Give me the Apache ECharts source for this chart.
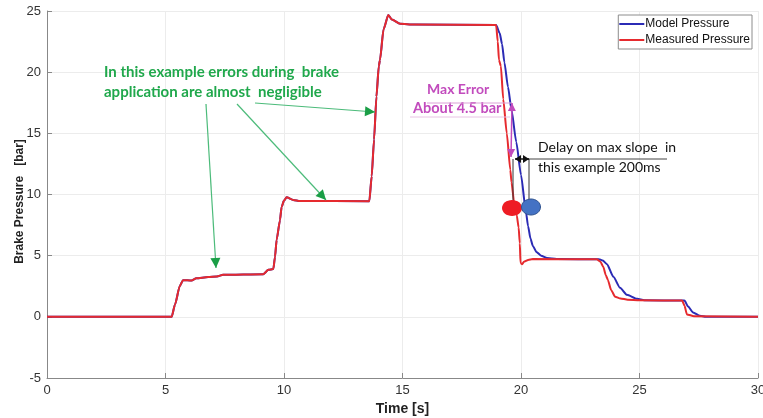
<!DOCTYPE html>
<html>
<head>
<meta charset="utf-8">
<script src="https://cdn.jsdelivr.net/npm/echarts@6/dist/echarts.min.js"></script>
<style>
  html, body { margin: 0; padding: 0; background: #fff; }
  #chart { width: 763px; height: 418px; }
</style>
</head>
<body>
<div id="chart"></div>
<script>
// common part: both curves overlap during brake application
var riseTime = [0, 5.26, 5.4, 5.6, 5.74, 6.1, 6.3, 6.8, 7.17, 7.43, 9.13, 9.34, 9.55, 9.62, 9.69, 9.83, 9.9, 10.0, 10.11, 10.39, 10.67, 13.6, 13.7, 13.8, 13.9, 14.0, 14.05, 14.2, 14.4, 14.55, 14.9, 15.5, 18.95];
var risePressure = [0, 0, 1.0, 2.5, 3.0, 2.97, 3.15, 3.25, 3.3, 3.43, 3.49, 3.84, 3.9, 4.9, 6.3, 7.9, 9.0, 9.5, 9.78, 9.56, 9.47, 9.45, 11.5, 14.5, 18.0, 20.5, 21.0, 23.5, 24.67, 24.3, 23.95, 23.9, 23.85];

// release part, measured
var measuredTime = [19.02, 19.07, 19.15, 19.25, 19.4, 19.55, 19.6, 19.7, 19.82, 19.9, 19.95, 19.98, 20.05, 20.12, 20.3, 20.5, 23.2, 23.35, 23.47, 23.58, 23.67, 23.8, 23.97, 24.2, 24.5, 25, 26.8, 26.9, 27.0, 27.3, 30];
var measuredPressure = [22.5, 21.0, 20.5, 17.8, 15.0, 12.0, 11.0, 9.5, 8.3, 7.3, 6.0, 4.4, 4.3, 4.5, 4.65, 4.72, 4.7, 4.5, 4.1, 3.4, 3.0, 2.2, 1.65, 1.5, 1.4, 1.35, 1.33, 0.9, 0.2, 0.05, 0];

// release part, model
var modelTime = [19.1, 19.2, 19.3, 19.45, 19.6, 19.8, 20.0, 20.2, 20.3, 20.4, 20.5, 20.65, 20.85, 21.1, 21.5, 23.3, 23.45, 23.63, 23.9, 24.18, 24.47, 24.9, 25.2, 26.9, 27.05, 27.26, 27.55, 27.8, 30];
var modelPressure = [23.2, 22.3, 20.8, 18.8, 16.9, 14.3, 11.6, 8.7, 7.4, 6.4, 5.8, 5.3, 5.0, 4.8, 4.72, 4.7, 4.6, 4.3, 3.27, 2.37, 1.8, 1.47, 1.35, 1.33, 0.84, 0.35, 0.08, 0, 0];

var xTicks = [0, 30, 5];
var yTicks = [-5, 25, 5];

function pairs(t, p) {
  return t.map(function (v, i) { return [v, p[i]]; });
}
var modelData = pairs(riseTime, risePressure).concat(pairs(modelTime, modelPressure));
var measuredData = pairs(riseTime, risePressure).concat(pairs(measuredTime, measuredPressure));

// arrow helper for the annotations (pixel space)
function arrow(x1, y1, x2, y2, lineColor, headColor, len, w, lw, both) {
  function head(x, y, a) {
    var c = Math.cos(a), s = Math.sin(a);
    return {
      type: 'polygon', z: 100, silent: true,
      shape: { points: [[x, y], [x - len * c + w * s, y - len * s - w * c], [x - len * c - w * s, y - len * s + w * c]] },
      style: { fill: headColor }
    };
  }
  var a = Math.atan2(y2 - y1, x2 - x1);
  var out = [{
    type: 'line', z: 100, silent: true,
    shape: { x1: x1, y1: y1, x2: x2, y2: y2 },
    style: { stroke: lineColor, lineWidth: lw }
  }, head(x2, y2, a)];
  if (both) out.push(head(x1, y1, a + Math.PI));
  return out;
}

var green = '#20a84c';
var magenta = '#c24bbd';
var graphics = [
  {
    type: 'text', z: 100, left: 104, top: 62,
    style: { text: 'In this example errors during  brake\napplication are almost  negligible', fill: green, font: 'bold 15px Lato, sans-serif', lineHeight: 20 }
  },
  {
    type: 'text', z: 100, left: 427, top: 82,
    style: { text: 'Max Error', fill: magenta, font: 'bold 14px Lato, sans-serif' }
  },
  {
    type: 'text', z: 100, left: 413, top: 101,
    style: { text: 'About 4.5 bar', fill: magenta, font: 'bold 14.5px Lato, sans-serif' }
  },
  {
    type: 'text', z: 100, left: 538, top: 137,
    style: { text: 'Delay on max slope  in\nthis example 200ms', fill: '#111', font: '14px Lato, sans-serif', lineHeight: 20 }
  },
  { type: 'line', z: 100, shape: { x1: 427, y1: 103, x2: 512, y2: 103 }, style: { stroke: '#dca0d8', lineWidth: 1 } },
  { type: 'line', z: 100, shape: { x1: 410, y1: 117, x2: 510, y2: 117 }, style: { stroke: '#e8c4e4', lineWidth: 1 } },
  { type: 'line', z: 100, shape: { x1: 528, y1: 159, x2: 667, y2: 159 }, style: { stroke: '#444', lineWidth: 1 } },
  { type: 'line', z: 100, shape: { x1: 513, y1: 159, x2: 513, y2: 204 }, style: { stroke: '#333', lineWidth: 1 } },
  { type: 'line', z: 100, shape: { x1: 529, y1: 159, x2: 529, y2: 204 }, style: { stroke: '#333', lineWidth: 1 } },
  { type: 'ellipse', z: 101, shape: { cx: 512, cy: 208, rx: 10, ry: 8 }, style: { fill: '#ee1c24' } },
  { type: 'ellipse', z: 101, shape: { cx: 531, cy: 207, rx: 9.5, ry: 8 }, style: { fill: '#4472c4', stroke: '#2f528f', lineWidth: 1 } }
]
  .concat(arrow(206, 104, 216, 268, '#4cbb7a', '#1a9e46', 10, 5, 1.2, false))
  .concat(arrow(237, 104, 326, 200, '#4cbb7a', '#1a9e46', 10, 5, 1.2, false))
  .concat(arrow(255, 103, 375, 112, '#4cbb7a', '#1a9e46', 10, 5, 1.2, false))
  .concat(arrow(512, 103, 511, 157, magenta, magenta, 8, 4, 1.5, true))
  .concat(arrow(515, 159, 529, 159, '#111', '#111', 6, 4, 1.5, true));

var chart = echarts.init(document.getElementById('chart'));
chart.setOption({
  animation: false,
  backgroundColor: '#fff',
  grid: { left: 47, right: 5, top: 11, bottom: 40, outerBoundsMode: 'none' },
  legend: {
    orient: 'vertical',
    right: 11, top: 15,
    data: ['Model Pressure', 'Measured Pressure'],
    icon: 'rect', itemWidth: 25, itemHeight: 2, itemGap: 4,
    backgroundColor: '#fff', borderColor: '#8c8c8c', borderWidth: 1,
    padding: [3, 2, 3, 1],
    textStyle: { fontFamily: 'Liberation Sans, Arial, sans-serif', fontSize: 12, color: '#111', padding: [0, 0, 0, -4] }
  },
  xAxis: {
    type: 'value', min: xTicks[0], max: xTicks[1], interval: xTicks[2],
    name: 'Time [s]', nameLocation: 'middle', nameGap: 23,
    nameTextStyle: { fontFamily: 'Liberation Sans, Arial, sans-serif', fontWeight: 'bold', fontSize: 14, color: '#222' },
    axisLine: { onZero: false, lineStyle: { color: '#888' } },
    axisTick: { inside: true, length: 5, lineStyle: { color: '#888' } },
    axisLabel: { margin: 6, fontFamily: 'Liberation Sans, Arial, sans-serif', fontSize: 13, color: '#333' },
    splitLine: { lineStyle: { color: '#ececec' } }
  },
  yAxis: {
    type: 'value', min: yTicks[0], max: yTicks[1], interval: yTicks[2],
    name: 'Brake Pressure   [bar]', nameLocation: 'middle', nameGap: 21, nameMoveOverlap: false,
    nameTextStyle: { fontFamily: 'Liberation Sans, Arial, sans-serif', fontWeight: 'bold', fontSize: 12, color: '#222', padding: [0, 14, 0, 0] },
    axisLine: { show: true, lineStyle: { color: '#888' } },
    axisTick: { show: true, inside: true, length: 5, lineStyle: { color: '#888' } },
    axisLabel: { margin: 6, fontFamily: 'Liberation Sans, Arial, sans-serif', fontSize: 13, color: '#333' },
    splitLine: { lineStyle: { color: '#ececec' } }
  },
  series: [
    {
      name: 'Model Pressure', type: 'line', data: modelData,
      showSymbol: false, smooth: 0.2, smoothMonotone: 'x',
      lineStyle: { color: '#2b2bb5', width: 2 }, itemStyle: { color: '#2b2bb5' }
    },
    {
      name: 'Measured Pressure', type: 'line', data: measuredData,
      showSymbol: false, smooth: 0.2, smoothMonotone: 'x',
      lineStyle: { color: '#e62a2e', width: 2 }, itemStyle: { color: '#e62a2e' }
    }
  ],
  graphic: graphics
});
</script>
</body>
</html>
